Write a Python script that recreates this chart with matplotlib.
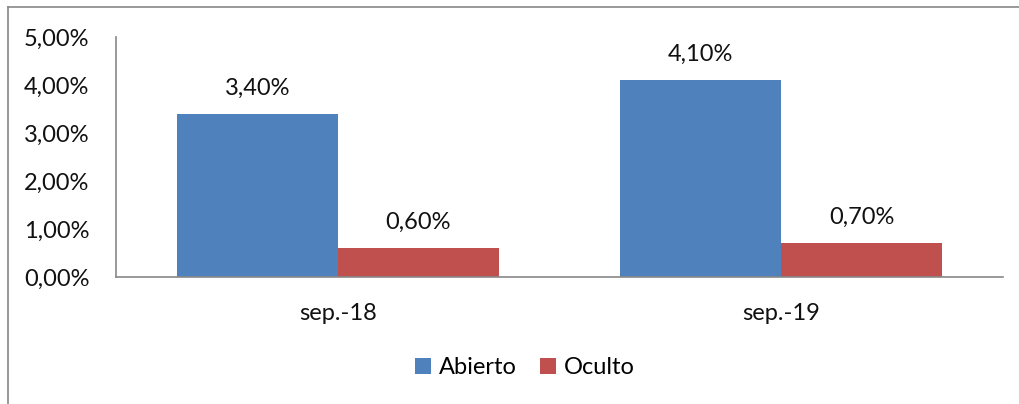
import matplotlib
matplotlib.use("Agg")
import matplotlib.pyplot as plt
from matplotlib.lines import Line2D
from matplotlib.ticker import FuncFormatter
import numpy as np

categories = ['sep.-18', 'sep.-19']
abierto = [3.40, 4.10]
oculto = [0.60, 0.70]
series_names = ['Abierto', 'Oculto']
colors = ['#4F81BD', '#C0504D']

plt.rcParams['font.family'] = ['Lato', 'DejaVu Sans']

W, H = 1020, 404
fig = plt.figure(figsize=(W / 100, H / 100), dpi=100)
ax = fig.add_axes([116 / W, 1 - 277 / H, (1003 - 116) / W, (277 - 37) / H])

x = np.arange(len(categories))
bw = 161 / 443.5
b1 = ax.bar(x - bw / 2, abierto, bw, color=colors[0], label=series_names[0])
b2 = ax.bar(x + bw / 2, oculto, bw, color=colors[1], label=series_names[1])


def pct(v):
    return f'{v:.2f}'.replace('.', ',') + '%'


# value labels above the bars
for bars, vals in [(b1, abierto), (b2, oculto)]:
    for bar, v in zip(bars, vals):
        ax.annotate(pct(v), (bar.get_x() + bar.get_width() / 2, v),
                    xytext=(0, 11), textcoords='offset points',
                    ha='center', va='bottom', fontsize=17, color='#111111')

ax.set_xlim(-0.5, len(categories) - 0.5)
ax.set_ylim(0, 5)
ax.set_yticks([0, 1, 2, 3, 4, 5])
ax.yaxis.set_major_formatter(FuncFormatter(lambda v, p: pct(v)))
ax.set_xticks(x)
ax.set_xticklabels(categories)
ax.tick_params(axis='both', length=0, labelsize=17, colors='#111111')
ax.tick_params(axis='y', pad=19)
ax.tick_params(axis='x', pad=19)

for s in ['top', 'right']:
    ax.spines[s].set_visible(False)
for s in ['left', 'bottom']:
    ax.spines[s].set_color('#888888')
    ax.spines[s].set_linewidth(1.2)

# outer chart border (left and top edges only visible)
fig.add_artist(Line2D([8 / W, 8 / W], [0, 1 - 7 / H], transform=fig.transFigure,
                      color='#888888', lw=1.2))
fig.add_artist(Line2D([8 / W, 1], [1 - 7 / H, 1 - 7 / H], transform=fig.transFigure,
                      color='#888888', lw=1.2))

fig.legend(handles=[b1, b2], labels=series_names, loc='center',
           bbox_to_anchor=(525 / W, 1 - 368 / H), ncol=2, frameon=False,
           fontsize=17, handlelength=0.65, handleheight=0.65,
           handletextpad=0.35, columnspacing=1.0)

fig.savefig('out.png', dpi=100)
